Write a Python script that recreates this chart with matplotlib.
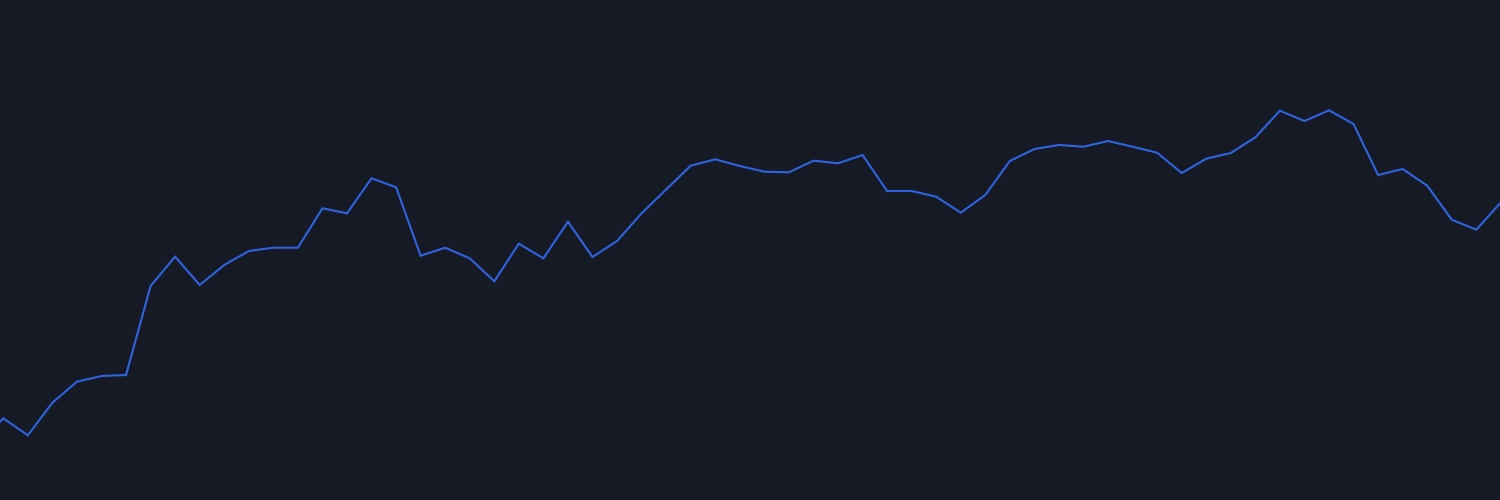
import numpy as np
import matplotlib
matplotlib.use("Agg")
import matplotlib.pyplot as plt

# series values (height above bottom edge)
values = [56.5, 81.7, 64.7, 97.3, 118.3, 124.0, 125.0, 214.0, 243.3, 215.0,
          235.0, 249.0, 252.3, 252.3, 291.7, 286.7, 321.7, 312.7, 244.3, 252.3,
          241.7, 218.7, 256.3, 241.7, 278.3, 243.0, 259.0, 286.7, 310.5, 334.3,
          340.7, 334.0, 328.3, 327.7, 339.3, 336.7, 345.0, 309.0, 309.0, 303.3,
          287.3, 305.0, 339.0, 351.0, 355.0, 353.3, 359.0, 353.3, 347.3, 327.0,
          341.3, 347.0, 362.7, 389.3, 379.0, 389.7, 376.0, 325.0, 331.0, 314.3,
          280.3, 270.3, 297.6]
index = np.arange(len(values))

bg = "#161a25"
line_color = "#2f63e0"

fig = plt.figure(figsize=(15, 5), dpi=100, facecolor=bg)
ax = fig.add_axes([0, 0, 1, 1])
ax.set_facecolor(bg)
ax.plot(index, values, color=line_color, linewidth=1.5, solid_joinstyle="miter")

ax.set_xlim(0.866, 61.965)
ax.set_ylim(0, 500)
ax.axis("off")

fig.savefig("out.png", dpi=100, facecolor=bg)
